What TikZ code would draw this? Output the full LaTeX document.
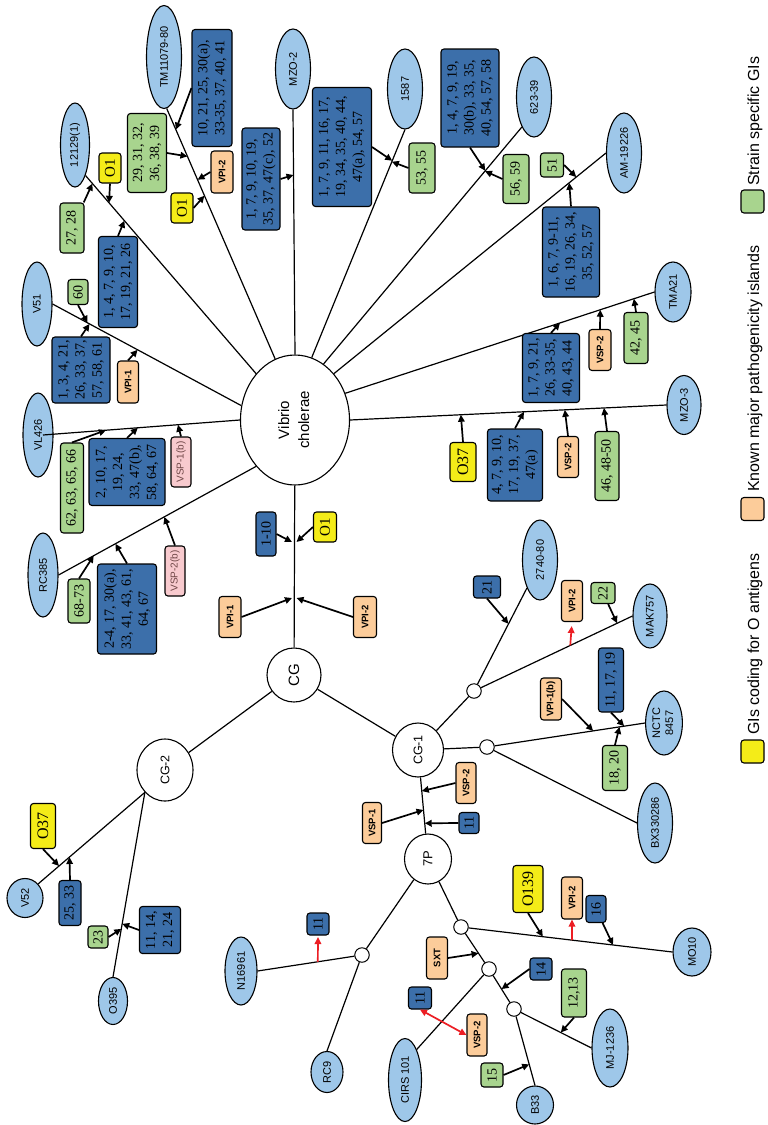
\documentclass[tikz,border=0pt]{standalone}
\usepackage{fontspec}
\setmainfont{Liberation Sans}
\newfontfamily\numserif{Liberation Serif}
\usetikzlibrary{shapes.geometric,arrows.meta,calc}
\pgfdeclarelayer{back}
\pgfsetlayers{back,main}

\definecolor{strainblue}{RGB}{158,199,233}
\definecolor{giblue}{RGB}{60,111,170}
\definecolor{gigreen}{RGB}{168,212,142}
\definecolor{giyellow}{RGB}{244,236,24}
\definecolor{paiorange}{RGB}{252,204,154}
\definecolor{vsppink}{RGB}{248,202,206}
\definecolor{vsptext}{RGB}{110,70,70}
\definecolor{arrowred}{RGB}{236,30,36}

\newcommand\rottext[1]{\rotatebox{90}{#1}}
\newcommand\rottwo[2]{\rotatebox{90}{\begin{tabular}{@{}c@{}}#1\\#2\end{tabular}}}

\tikzset{
  esz/.style 2 args={minimum width=#1, minimum height=#2},
  sz/.style 2 args={minimum width=#2, minimum height=#1},
  strain/.style={ellipse, draw, fill=strainblue, line width=1.1pt, inner sep=0pt,
    font=\fontsize{11}{13}\selectfont},
  hub/.style={ellipse, draw, fill=white, line width=1.1pt, inner sep=0pt},
  junc/.style={circle, draw, fill=white, line width=1pt, minimum size=14.5pt, inner sep=0pt},
  gi/.style={draw, rounded corners=3pt, line width=1.1pt, rotate=90, inner sep=1pt, align=center},
  num/.style={gi, fill=giblue, font=\numserif\fontsize{14}{17}\selectfont},
  spec/.style={gi, fill=gigreen, font=\numserif\fontsize{14}{17}\selectfont},
  oant/.style={gi, fill=giyellow, font=\numserif\fontsize{16}{18}\selectfont},
  oone/.style={oant, font=\numserif\fontsize{15}{17}\selectfont},
  pai/.style={gi, fill=paiorange, font=\bfseries\fontsize{9.5}{11}\selectfont},
  vsp/.style={gi, fill=vsppink, text=vsptext, font=\fontsize{10}{12}\selectfont},
  legsq/.style={draw, rounded corners=3pt, line width=1.1pt, minimum size=23pt, inner sep=0pt},
  legtext/.style={rotate=90, anchor=base west, inner sep=0pt, font=\fontsize{16}{19}\selectfont},
  branch/.style={line width=1.2pt},
  gain/.style={line width=1.7pt, -{Triangle[length=7pt,width=6.5pt]}},
  redgain/.style={gain, draw=arrowred},
}

\begin{document}
\begin{tikzpicture}[x=1pt,y=-1pt]
\useasboundingbox (0,0) rectangle (768,1125);

% hubs and branch junctions
\node[hub, esz={109}{130}, font=\fontsize{15}{20}\selectfont] (vib) at (295,420) {\rottwo{Vibrio}{cholerae}};
\node[hub, esz={54}{54}, font=\fontsize{15}{18}\selectfont] (cg) at (294,675) {\rottext{CG}};
\node[hub, esz={51}{54}, font=\fontsize{12.5}{15}\selectfont] (cg1) at (418,750) {\rottext{CG-1}};
\node[hub, esz={56}{62}, font=\fontsize{12.5}{15}\selectfont] (cg2) at (165,770) {\rottext{CG-2}};
\node[hub, esz={47}{50}, font=\fontsize{13}{15}\selectfont] (p7) at (428,859) {\rottext{7P}};
\node[junc] (j1) at (474,691) {};
\node[junc] (j2) at (487,747) {};
\node[junc] (ja) at (362,955) {};
\node[junc] (jb) at (461,927) {};
\node[junc] (jc) at (489,969) {};
\node[junc] (jd) at (514,1009) {};

% strains
\node[strain, esz={29}{84}] (s12129) at (75,145) {\rottext{12129(1)}};
\node[strain, esz={35}{103}] (sTM) at (164,57) {\rottext{TM11079-80}};
\node[strain, esz={35}{80}] (sMZOb) at (293,69) {\rottext{MZO-2}};
\node[strain, esz={35}{80}] (s1587) at (405,89) {\rottext{1587}};
\node[strain, esz={35}{80}] (s62339) at (534,97) {\rottext{623-39}};
\node[strain, esz={35}{80}] (sAM) at (624,153) {\rottext{AM-19226}};
\node[strain, esz={36}{60}] (sTMA) at (673,292) {\rottext{TMA21}};
\node[strain, esz={34}{59}] (sMZOc) at (684,405) {\rottext{MZO-3}};
\node[strain, esz={30}{84}] (sV51) at (37,304) {\rottext{V51}};
\node[strain, esz={30}{84}] (sVL) at (38,435) {\rottext{VL426}};
\node[strain, esz={30}{84}] (sRC) at (43,575) {\rottext{RC385}};
\node[strain, esz={35}{80}] (s2740) at (540,560) {\rottext{2740-80}};
\node[strain, esz={34}{64}] (sMAK) at (650,616) {\rottext{MAK757}};
\node[strain, esz={36}{64}] (sNCTC) at (664,723) {\rottwo{NCTC}{8457}};
\node[strain, esz={35}{80}] (sBX) at (655,823) {\rottext{BX330286}};
\node[strain, esz={38}{48}] (sMO) at (692,952) {\rottext{MO10}};
\node[strain, esz={36}{78}] (sMJ) at (610,1048) {\rottext{MJ-1236}};
\node[strain, esz={37}{38}] (sB33) at (535,1105) {\rottext{B33}};
\node[strain, esz={33}{83}] (sCIRS) at (405,1080) {\rottext{CIRS 101}};
\node[strain, esz={32}{41}] (sRC9) at (327,1072) {\rottext{RC9}};
\node[strain, esz={32}{68}] (sN16) at (241,971) {\rottext{N16961}};
\node[strain, esz={29}{47}] (sO395) at (113,1001) {\rottext{O395}};
\node[strain, esz={36}{39}] (sV52) at (25,898) {\rottext{V52}};

% genomic islands around Vibrio cholerae
\node[num, sz={40}{117}] (bTM) at (212,88) {10, 21, 25, 30(a),\\33-35, 37, 40, 41};
\node[spec, sz={39}{79}] (g29) at (147,153) {29, 31, 32,\\36, 38, 39};
\node[pai, sz={22}{42}] (vpiTM) at (222,172) {VPI-2};
\node[oone, sz={22}{30}] (oTM) at (182,208) {O1};
\node[oone, sz={22}{30}] (o12129) at (110,168) {O1};
\node[spec, sz={24}{50}] (g27) at (72,228) {27, 28};
\node[num, sz={39}{91}] (b12129) at (118,282) {1, 4, 7, 9, 10,\\17, 19, 21, 26};
\node[num, sz={38}{102}] (bMZOb) at (261,179) {1, 7, 9, 10, 19,\\35, 37, 47(c), 52};
\node[num, sz={59}{119}] (b1587) at (342,147) {1, 7, 9, 11, 16, 17,\\19, 34, 35, 40, 44,\\47(a), 54, 57};
\node[spec, sz={26}{50}] (g53) at (422,168) {53, 55};
\node[num, sz={58}{98}] (b62339) at (470,98) {1, 4, 7, 9, 19,\\30(b), 33, 35,\\40, 54, 57, 58};
\node[spec, sz={26}{49}] (g56) at (516,179) {56, 59};
\node[spec, sz={23}{24}] (g51) at (552,165) {51};
\node[num, sz={57}{90}] (bAM) at (571,252) {1, 6, 7, 9-11,\\16, 19, 26, 34,\\35, 52, 57};
\node[num, sz={57}{69}] (bTMA) at (551,368) {1, 7, 9, 21,\\26, 33-35,\\40, 43, 44};
\node[pai, sz={22}{41}] (vspTMA) at (600,350) {VSP-2};
\node[spec, sz={24}{51}] (g42) at (636,338) {42, 45};
\node[num, sz={55}{72}] (bMZOc) at (515,465) {4, 7, 9, 10,\\17, 19, 37,\\47(a)};
\node[pai, sz={21}{41}] (vspMZO) at (568,457) {VSP-2};
\node[spec, sz={24}{69}] (g46) at (607,466) {46, 48-50};
\node[oant, sz={26}{39}] (oMZO) at (463,462) {O37};
\node[spec, sz={20}{25}] (g60) at (78,292) {60};
\node[num, sz={58}{66}] (bV51) at (81,370) {1, 3, 4, 21,\\26, 33, 37,\\57, 58, 61};
\node[pai, sz={21}{42}] (vpiV51) at (128,382) {VPI-1};
\node[spec, sz={23}{90}] (g62) at (72,488) {62, 63, 65, 66};
\node[num, sz={76}{67}] (bVL) at (127,472) {2, 10, 17,\\19, 24,\\33, 47(b),\\58, 64, 67};
\node[vsp, sz={20}{50}] (vspVL) at (181,462) {VSP-1(b)};
\node[spec, sz={22}{44}] (g68) at (79,601) {68-73};
\node[num, sz={59}{90}] (bRC) at (127,609) {2-4, 17, 30(a),\\33, 41, 43, 61,\\64, 67};
\node[vsp, sz={20}{50}] (vspRC) at (175,571) {VSP-2(b)};

% islands on the trunk
\node[pai, sz={22}{41}] (vpiCGa) at (230,617) {VPI-1};
\node[num, sz={20}{44}] (bCG) at (266,534) {1-10};
\node[oone, sz={23}{30}] (oCG) at (325,527) {O1};
\node[pai, sz={23}{41}] (vpiCGb) at (365,617) {VPI-2};

% CG-1 branch
\node[num, sz={27}{22}] (b21) at (487,587) {21};
\node[pai, sz={21}{41}] (vpiMAK) at (572,601) {VPI-2};
\node[spec, sz={24}{21}] (g22) at (603,593) {22};
\node[pai, sz={21}{42}] (vpiNC) at (551,699) {VPI-1(b)};
\node[num, sz={25}{64}] (bNC) at (611,680) {11, 17, 19};
\node[spec, sz={25}{45}] (g18) at (615,768) {18, 20};

% CG-2 branch
\node[oant, sz={25}{45}] (oV52) at (43,826) {O37};
\node[num, sz={22}{45}] (bV52) at (70,903) {25, 33};
\node[spec, sz={20}{22}] (g23) at (98,937) {23};
\node[num, sz={41}{47}] (bO395) at (160,930) {11, 14,\\21, 24};

% 7P branch
\node[pai, sz={20}{41}] (vspCG1) at (466,783) {VSP-2};
\node[pai, sz={19}{41}] (vsp7P) at (372,823) {VSP-1};
\node[num, sz={20}{21}] (b7P) at (469,823) {11};
\node[num, sz={22}{22}] (bN16) at (318,924) {11};
\node[pai, sz={21}{42}] (sxt) at (437,958) {SXT};
\node[num, sz={23}{22}] (bCIRS) at (420,998) {11};
\node[pai, sz={20}{42}] (vspCIRS) at (477,1035) {VSP-2};
\node[spec, sz={22}{24}] (g15) at (492,1075) {15};
\node[num, sz={22}{22}] (b14) at (541,969) {14};
\node[oant, sz={30}{47}] (oMO) at (528,889) {O139};
\node[pai, sz={21}{42}] (vpiMO) at (572,898) {VPI-2};
\node[num, sz={20}{27}] (b16) at (596,909) {16};
\node[spec, sz={25}{48}] (g12) at (574,993) {12,13};

% legend
\node[legsq, fill=gigreen] (lgS) at (752.5,201.5) {};
\node[legtext] (ltS) at (759,186) {Strain specific GIs};
\node[legsq, fill=paiorange] (lgK) at (752.5,509) {};
\node[legtext] (ltK) at (759,492) {Known major pathogenicity islands};
\node[legsq, fill=giyellow] (lgO) at (752.5,751.5) {};
\node[legtext] (ltO) at (759,735) {GIs coding for O antigens};

% points where islands join the branches
\coordinate (tTMa) at ($(sTM.-87)!(175,130)!(vib.108)$);
\coordinate (tTMb) at ($(sTM.-87)!(186,157)!(vib.108)$);
\coordinate (tTMc) at ($(sTM.-87)!(197,180)!(vib.108)$);
\coordinate (tTMd) at ($(sTM.-87)!(206,195)!(vib.108)$);
\coordinate (t12a) at ($(s12129.-71)!(110,202)!(vib.130)$);
\coordinate (t12b) at ($(s12129.-71)!(93,183)!(vib.130)$);
\coordinate (t12c) at ($(s12129.-71)!(124,221)!(vib.130)$);
\coordinate (tMZb) at ($(sMZOb.south)!(293,175)!(vib.90)$);
\coordinate (t15a) at ($(s1587.south)!(388,159)!(vib.75)$);
\coordinate (t15b) at ($(s1587.south)!(395,163)!(vib.75)$);
\coordinate (t62a) at ($(s62339.-112)!(482,168)!(vib.63)$);
\coordinate (t62b) at ($(s62339.-112)!(486,172)!(vib.63)$);
\coordinate (tAMa) at ($(sAM.west)!(577,178)!(vib.50)$);
\coordinate (tAMb) at ($(sAM.west)!(571,185)!(vib.50)$);
\coordinate (tTAa) at ($(sTMA.west)!(560,323)!(vib.28)$);
\coordinate (tTAb) at ($(sTMA.west)!(600,309)!(vib.28)$);
\coordinate (tTAc) at ($(sTMA.west)!(634,299)!(vib.28)$);
\coordinate (tMZa) at ($(sMZOc.west)!(524,415)!(vib.east)$);
\coordinate (tMZc) at ($(sMZOc.west)!(565,414)!(vib.east)$);
\coordinate (tMZd) at ($(sMZOc.west)!(604,409)!(vib.east)$);
\coordinate (tMZe) at ($(sMZOc.west)!(461,418)!(vib.east)$);
\coordinate (tV5a) at ($(sV51.east)!(89,320)!(vib.165)$);
\coordinate (tV5b) at ($(sV51.east)!(90,323)!(vib.165)$);
\coordinate (tV5c) at ($(sV51.east)!(138,349)!(vib.165)$);
\coordinate (vlStart) at ([xshift=5pt]sVL.center);
\coordinate (tVLa) at ($(vlStart)!(106,430)!(vib.west)$);
\coordinate (tVLb) at ($(vlStart)!(138,430)!(vib.west)$);
\coordinate (tVLc) at ($(vlStart)!(178,425)!(vib.west)$);
\coordinate (tRCa) at ($(sRC.east)!(95,558)!(vib.230)$);
\coordinate (tRCb) at ($(sRC.east)!(115,543)!(vib.230)$);
\coordinate (tRCc) at ($(sRC.east)!(165,518)!(vib.230)$);
\coordinate (tCGa) at (292,542);
\coordinate (tCGb) at (296.5,542);
\coordinate (tCGc) at (292,598);
\coordinate (tCGd) at (296.5,598);
\coordinate (t27) at ($(j1.center)!(503,621)!(s2740.245)$);
\coordinate (tMKr) at ($(j1.center)!(571,647)!(sMAK.west)$);
\coordinate (tMKg) at ($(j1.center)!(617,623)!(sMAK.west)$);
\coordinate (tNCa) at ($(j2.center)!(593,730)!(sNCTC.west)$);
\coordinate (tNCb) at ($(j2.center)!(624,725)!(sNCTC.west)$);
\coordinate (tNCc) at ($(j2.center)!(620,730)!(sNCTC.west)$);
\coordinate (tV2a) at ($(cg2.228)!(59,866)!(sV52.47)$);
\coordinate (tV2b) at ($(cg2.228)!(72,860)!(sV52.47)$);
\coordinate (tO3a) at ($(cg2.228)!(122,929)!(sO395.north)$);
\coordinate (tO3b) at ($(cg2.228)!(123,924)!(sO395.north)$);
\coordinate (tP7a) at ($(cg1.center)!(422,791)!(p7.center)$);
\coordinate (tP7b) at ($(cg1.center)!(423,810)!(p7.center)$);
\coordinate (tP7c) at ($(cg1.center)!(428,823)!(p7.center)$);
\coordinate (tN16) at ($(ja.center)!(318,963)!(sN16.east)$);
\coordinate (tSXT) at ($(jb.center)!(479,953)!(jc.center)$);
\coordinate (t14) at ($(jc.center)!(500,990)!(jd.center)$);
\coordinate (tMOa) at ($(jb.center)!(543,935)!(sMO.west)$);
\coordinate (tMOr) at ($(jb.center)!(572,940)!(sMO.west)$);
\coordinate (tMOb) at ($(jb.center)!(613,945)!(sMO.west)$);
\coordinate (tMJ) at ($(jd.center)!(558,1038)!(sMJ.west)$);
\coordinate (tB33) at ($(jd.center)!(527,1065)!(sB33.north)$);

% the VL426 branch starts inside its ellipse
\draw[branch] (vlStart) -- (vib.west);

% acquisitions
\draw[gain] (bTM.north) -- (tTMa);
\draw[gain] (g29.south) -- (tTMb);
\draw[gain] (vpiTM.north) -- (tTMc);
\draw[gain] (oTM.south) -- (tTMd);
\draw[gain] (o12129.west) -- (t12a);
\draw[gain] (g27) -- (t12b);
\draw[gain] (b12129.east) -- (t12c);
\draw[gain] (bMZOb.south) -- (tMZb);
\draw[gain] (b1587.south) -- (t15a);
\draw[gain] (g53.north) -- (t15b);
\draw[gain] (b62339.west) -- (t62a);
\draw[gain] (g56.north) -- (t62b);
\draw[gain] (g51.south) -- (tAMa);
\draw[gain] (bAM.east) -- (tAMb);
\draw[gain] (bTMA.east) -- (tTAa);
\draw[gain] (vspTMA.east) -- (tTAb);
\draw[gain] (g42.east) -- (tTAc);
\draw[gain] (bMZOc.east) -- (tMZa);
\draw[gain] (vspMZO.east) -- (tMZc);
\draw[gain] (g46.east) -- (tMZd);
\draw[gain] (oMZO.east) -- (tMZe);
\draw[gain] (g60.west) -- (tV5a);
\draw[gain] (bV51.east) -- (tV5b);
\draw[gain] (vpiV51.east) -- (tV5c);
\draw[gain] (g62.east) -- (tVLa);
\draw[gain] (bVL.east) -- (tVLb);
\draw[gain] (vspVL.east) -- (tVLc);
\draw[gain] (g68.east) -- (tRCa);
\draw[gain] (bRC.east) -- (tRCb);
\draw[gain] (vspRC.east) -- (tRCc);
\draw[gain] (bCG.south) -- (tCGa);
\draw[gain] (oCG.north) -- (tCGb);
\draw[gain] (vpiCGa.south) -- (tCGc);
\draw[gain] (vpiCGb.north) -- (tCGd);
\draw[gain] (b21.west) -- (t27);
\draw[redgain, shorten >=4pt] (tMKr) -- (vpiMAK.west);
\draw[gain] (g22) -- (tMKg);
\draw[gain] (vpiNC.south) -- (tNCa);
\draw[gain] (bNC.west) -- (tNCb);
\draw[gain] (g18.east) -- (tNCc);
\draw[gain] (oV52.west) -- (tV2a);
\draw[gain] (bV52.east) -- (tV2b);
\draw[gain] (g23.south) -- (tO3a);
\draw[gain] (bO395.north) -- (tO3b);
\draw[gain] (vspCG1.north) -- (tP7a);
\draw[gain] (vsp7P.south) -- (tP7b);
\draw[gain] (b7P.north) -- (tP7c);
\draw[redgain, shorten >=1.5pt] (tN16) -- (bN16.west);
\draw[gain] (sxt.south) -- (tSXT);
\draw[redgain, {Triangle[length=7pt,width=6.5pt]}-{Triangle[length=7pt,width=6.5pt]}] (bCIRS.west) -- (vspCIRS.north);
\draw[gain] (g15.south) -- (tB33);
\draw[gain] (b14.north) -- (t14);
\draw[gain] (oMO.west) -- (tMOa);
\draw[redgain] (tMOr) -- (vpiMO.west);
\draw[gain] (b16) -- (tMOb);
\draw[gain] (g12.west) -- (tMJ);

% branches of the tree
\begin{pgfonlayer}{back}
\fill[white] (0,0) rectangle (768,1125);
\draw[branch] (s12129.-71) -- (vib.130);
\draw[branch] (sTM.-87) -- (vib.108);
\draw[branch] (sMZOb.south) -- (vib.90);
\draw[branch] (s1587.south) -- (vib.75);
\draw[branch] (s62339.-112) -- (vib.63);
\draw[branch] (sAM.west) -- (vib.50);
\draw[branch] (sTMA.west) -- (vib.28);
\draw[branch] (sMZOc.west) -- (vib.east);
\draw[branch] (sV51.east) -- (vib.165);
\draw[branch] (sRC.east) -- (vib.230);
\draw[branch] (vib) -- (cg);
\draw[branch] (cg) -- (cg2);
\draw[branch] (cg) -- (cg1);
\draw[branch] (cg2.228) -- (sV52.47);
\draw[branch] (cg2.228) -- (sO395.north);
\draw[branch] (cg1) -- (j1);
\draw[branch] (j1) -- (s2740.245);
\draw[branch] (j1) -- (sMAK.west);
\draw[branch] (cg1) -- (j2);
\draw[branch] (j2) -- (sNCTC.west);
\draw[branch] (j2) -- (sBX.west);
\draw[branch] (cg1) -- (p7);
\draw[branch] (p7) -- (ja);
\draw[branch] (p7) -- (jb);
\draw[branch] (ja) -- (sN16.east);
\draw[branch] (ja) -- (sRC9.north);
\draw[branch] (jb) -- (jc);
\draw[branch] (jc) -- (jd);
\draw[branch] (jb) -- (sMO.west);
\draw[branch] (jc) -- (sCIRS.69);
\draw[branch] (jd) -- (sMJ.west);
\draw[branch] (jd) -- (sB33.north);
\end{pgfonlayer}
\end{tikzpicture}
\end{document}
